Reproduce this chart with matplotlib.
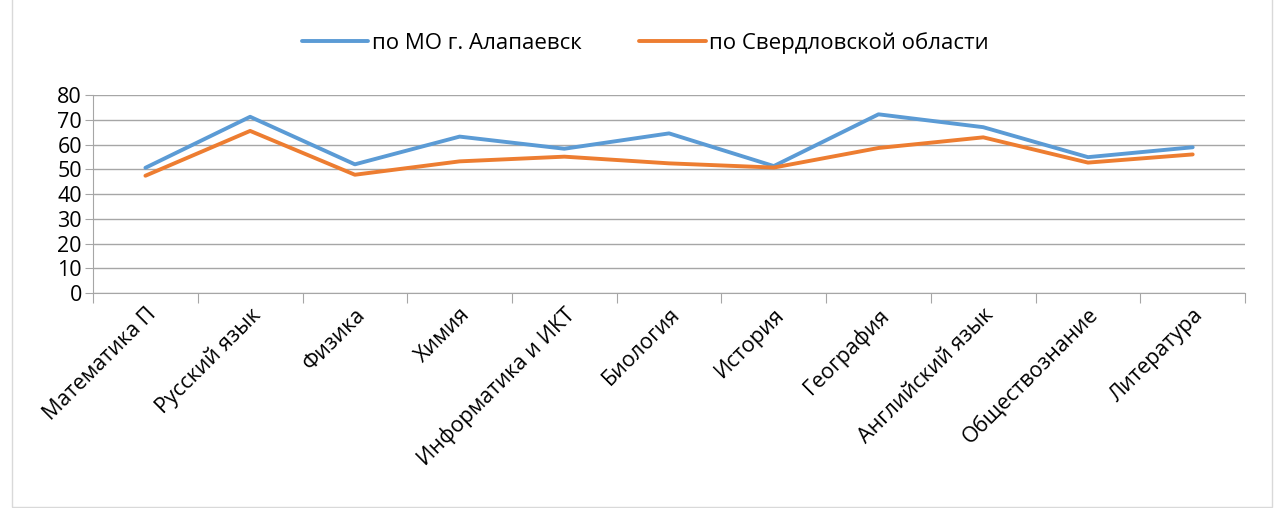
import matplotlib.pyplot as plt
from matplotlib.patches import Rectangle

subjects = ['Математика П', 'Русский язык', 'Физика', 'Химия', 'Информатика и ИКТ',
            'Биология', 'История', 'География', 'Английский язык', 'Обществознание',
            'Литература']
alapaevsk = [50.6, 71.2, 52.0, 63.2, 58.3, 64.5, 51.3, 72.2, 67.0, 54.9, 58.9]
sverdlovsk = [47.4, 65.5, 47.8, 53.2, 55.1, 52.4, 50.7, 58.6, 62.9, 52.7, 56.0]
yticks = [0, 10, 20, 30, 40, 50, 60, 70, 80]

plt.rcParams['font.family'] = ['Open Sans', 'DejaVu Sans']

fig = plt.figure(figsize=(12.8, 5.08), dpi=100)
ax = fig.add_axes([0.0727, 0.423, 0.9, 0.39])

x = list(range(len(subjects)))
ax.plot(x, alapaevsk, color='#5B9BD5', lw=2.8, label='по МО г. Алапаевск', solid_capstyle='round')
ax.plot(x, sverdlovsk, color='#ED7D31', lw=2.8, label='по Свердловской области', solid_capstyle='round')

ax.set_xlim(-0.5, len(subjects) - 0.5)
ax.set_ylim(0, 80)
ax.set_yticks(yticks)
ax.tick_params(axis='y', labelsize=15.5, length=6, color='#A6A6A6', pad=2)
ax.grid(axis='y', color='#A6A6A6', lw=1)
ax.set_axisbelow(True)

ax.set_xticks([i - 0.5 for i in range(len(subjects) + 1)])
ax.set_xticklabels([])
ax.set_xticks(x, minor=True)
ax.set_xticklabels(subjects, minor=True, rotation=45, ha='right', rotation_mode='anchor', fontsize=15.5)
ax.tick_params(axis='x', which='major', length=7, color='#A6A6A6')
ax.tick_params(axis='x', which='minor', length=0, pad=8)

for s in ['top', 'right']:
    ax.spines[s].set_visible(False)
for s in ['left', 'bottom']:
    ax.spines[s].set_color('#A6A6A6')

fig.legend(loc='center', bbox_to_anchor=(0.504, 0.915), ncol=2, frameon=False,
           fontsize=16, handlelength=3.0, columnspacing=2.6, handletextpad=0.15)

fig.patches.append(Rectangle((0.009, 0.001), 0.985, 1.2, transform=fig.transFigure,
                             fill=False, edgecolor='#D9D9D9', lw=1))

fig.savefig('out.png', dpi=100)
